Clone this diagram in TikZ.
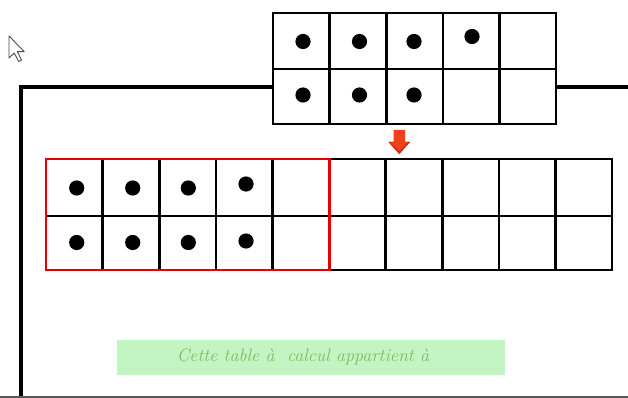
\documentclass[tikz,border=0pt]{standalone}
\usetikzlibrary{calc}
\definecolor{arrowred}{HTML}{F2401A}
\definecolor{arrowdark}{HTML}{C83010}
\definecolor{boxgreen}{HTML}{C2F5C2}
\definecolor{textgreen}{HTML}{86B864}
\tikzset{
  gridline/.style={line width=2.6pt, black, line cap=rect},
  frameline/.style={line width=3.6pt, black},
  redbox/.style={line width=2.8pt, red!90!black},
  dot/.style={black},
}
\begin{document}
\begin{tikzpicture}[x=1pt,y=-1pt]
\useasboundingbox (0,0) rectangle (628,398);
\fill[white] (0,0) rectangle (628,398);
% outer frame
\draw[frameline] (21,398) -- (21,87) -- (273,87);
\draw[frameline] (556,87) -- (628,87);
\draw[gray!70!black, line width=1.4pt] (0,397) -- (628,397);
% mouse cursor
\draw[gray!60!black, fill=white, line width=0.9pt, line join=round]
  (9,36) -- (9,58) -- (14.2,53) -- (18.6,61.5) -- (21.6,60) -- (17.4,51.6) -- (24.2,51.6) -- cycle;
% top grid
\foreach \i in {0,...,5}{
  \draw[gridline] ({273+56.6*\i},13) -- ({273+56.6*\i},124);
}
\foreach \y in {13,69,124}{
  \draw[gridline] (273,\y) -- (556,\y);
}
\foreach \x in {303,359.5,414}{
  \fill[dot] (\x,41.5) circle (7.6);
  \fill[dot] (\x,95) circle (7.6);
}
\fill[dot] (472,36.5) circle (7.6);
% red arrow
\fill[arrowred] (393.5,130) -- (405,130) -- (405,142) -- (410,142) -- (399.2,154) -- (388.5,142) -- (393.5,142) -- cycle;
\fill[arrowdark] (388.5,142) -- (410,142) -- (399.2,154) -- cycle;
\fill[arrowred] (390,142) -- (408.5,142) -- (399.2,151) -- cycle;
% main grid
\foreach \i in {0,...,10}{
  \draw[gridline] ({46+56.6*\i},159) -- ({46+56.6*\i},270);
}
\foreach \y in {159,216,270}{
  \draw[gridline] (46,\y) -- (612,\y);
}
\foreach \x in {76.7,132.7,188.3}{
  \fill[dot] (\x,188) circle (7.6);
  \fill[dot] (\x,242.5) circle (7.6);
}
\fill[dot] (246,184) circle (7.6);
\fill[dot] (246,241) circle (7.6);
\draw[redbox] (46,159) rectangle (329.2,270);
% label box
\node[fill=boxgreen, minimum width=388pt, minimum height=35pt, inner sep=0pt,
      anchor=north west] (label) at (117,339.5) {};
\node[text=textgreen, font=\fontsize{18}{20}\selectfont\itshape] (labeltext) at (303,357)
  {Cette table à\ \ calcul appartient à};
\end{tikzpicture}
\end{document}
